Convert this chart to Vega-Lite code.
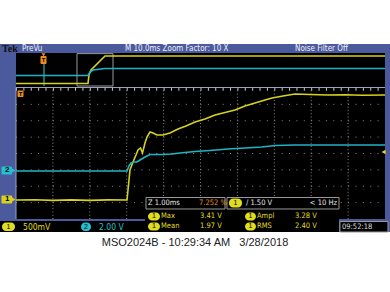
{
  "$schema": "https://vega.github.io/schema/vega-lite/v6.json",
  "width": 390,
  "height": 292,
  "padding": 0,
  "autosize": "none",
  "background": "white",
  "config": {"view": {"stroke": null}, "axis": {"disable": true}, "legend": {"disable": true}},
  "data": {"values": [{}]},
  "datasets": {
    "traces": [
      {"view": "zoom", "ch": "CH1", "x": -5.0, "y": -2.84},
      {"view": "zoom", "ch": "CH1", "x": -4.5, "y": -2.82},
      {"view": "zoom", "ch": "CH1", "x": -4.0, "y": -2.86},
      {"view": "zoom", "ch": "CH1", "x": -3.5, "y": -2.83},
      {"view": "zoom", "ch": "CH1", "x": -3.0, "y": -2.86},
      {"view": "zoom", "ch": "CH1", "x": -2.5, "y": -2.83},
      {"view": "zoom", "ch": "CH1", "x": -1.992, "y": -2.84},
      {"view": "zoom", "ch": "CH1", "x": -1.951, "y": -1.924},
      {"view": "zoom", "ch": "CH1", "x": -1.911, "y": -1.008},
      {"view": "zoom", "ch": "CH1", "x": -1.829, "y": -0.519},
      {"view": "zoom", "ch": "CH1", "x": -1.748, "y": -0.092},
      {"view": "zoom", "ch": "CH1", "x": -1.694, "y": 0.214},
      {"view": "zoom", "ch": "CH1", "x": -1.626, "y": 0.336},
      {"view": "zoom", "ch": "CH1", "x": -1.572, "y": 0.031},
      {"view": "zoom", "ch": "CH1", "x": -1.504, "y": 0.641},
      {"view": "zoom", "ch": "CH1", "x": -1.45, "y": 1.008},
      {"view": "zoom", "ch": "CH1", "x": -1.369, "y": 1.313},
      {"view": "zoom", "ch": "CH1", "x": -1.287, "y": 1.252},
      {"view": "zoom", "ch": "CH1", "x": -1.179, "y": 1.13},
      {"view": "zoom", "ch": "CH1", "x": -1.016, "y": 1.13},
      {"view": "zoom", "ch": "CH1", "x": -0.827, "y": 1.252},
      {"view": "zoom", "ch": "CH1", "x": -0.61, "y": 1.496},
      {"view": "zoom", "ch": "CH1", "x": -0.393, "y": 1.679},
      {"view": "zoom", "ch": "CH1", "x": -0.149, "y": 1.924},
      {"view": "zoom", "ch": "CH1", "x": 0.122, "y": 2.107},
      {"view": "zoom", "ch": "CH1", "x": 0.393, "y": 2.351},
      {"view": "zoom", "ch": "CH1", "x": 0.664, "y": 2.504},
      {"view": "zoom", "ch": "CH1", "x": 0.935, "y": 2.656},
      {"view": "zoom", "ch": "CH1", "x": 1.206, "y": 2.901},
      {"view": "zoom", "ch": "CH1", "x": 1.477, "y": 3.084},
      {"view": "zoom", "ch": "CH1", "x": 1.748, "y": 3.267},
      {"view": "zoom", "ch": "CH1", "x": 1.938, "y": 3.389},
      {"view": "zoom", "ch": "CH1", "x": 2.236, "y": 3.511},
      {"view": "zoom", "ch": "CH1", "x": 2.561, "y": 3.634},
      {"view": "zoom", "ch": "CH1", "x": 2.967, "y": 3.603},
      {"view": "zoom", "ch": "CH1", "x": 3.455, "y": 3.573},
      {"view": "zoom", "ch": "CH1", "x": 3.916, "y": 3.59},
      {"view": "zoom", "ch": "CH1", "x": 4.377, "y": 3.56},
      {"view": "zoom", "ch": "CH1", "x": 5.0, "y": 3.573},
      {"view": "zoom", "ch": "CH2", "x": -5.0, "y": -1.069},
      {"view": "zoom", "ch": "CH2", "x": -1.992, "y": -1.069},
      {"view": "zoom", "ch": "CH2", "x": -1.938, "y": -0.763},
      {"view": "zoom", "ch": "CH2", "x": -1.884, "y": -0.58},
      {"view": "zoom", "ch": "CH2", "x": -1.802, "y": -0.519},
      {"view": "zoom", "ch": "CH2", "x": -1.721, "y": -0.519},
      {"view": "zoom", "ch": "CH2", "x": -1.64, "y": -0.397},
      {"view": "zoom", "ch": "CH2", "x": -1.504, "y": -0.214},
      {"view": "zoom", "ch": "CH2", "x": -1.369, "y": -0.061},
      {"view": "zoom", "ch": "CH2", "x": -1.016, "y": -0.061},
      {"view": "zoom", "ch": "CH2", "x": -0.772, "y": -0.031},
      {"view": "zoom", "ch": "CH2", "x": -0.556, "y": 0.031},
      {"view": "zoom", "ch": "CH2", "x": -0.149, "y": 0.122},
      {"view": "zoom", "ch": "CH2", "x": 0.257, "y": 0.183},
      {"view": "zoom", "ch": "CH2", "x": 0.745, "y": 0.275},
      {"view": "zoom", "ch": "CH2", "x": 1.206, "y": 0.336},
      {"view": "zoom", "ch": "CH2", "x": 1.667, "y": 0.397},
      {"view": "zoom", "ch": "CH2", "x": 2.019, "y": 0.489},
      {"view": "zoom", "ch": "CH2", "x": 2.561, "y": 0.519},
      {"view": "zoom", "ch": "CH2", "x": 3.509, "y": 0.519},
      {"view": "zoom", "ch": "CH2", "x": 4.322, "y": 0.519},
      {"view": "zoom", "ch": "CH2", "x": 5.0, "y": 0.519},
      {"view": "overview", "ch": "CH1", "x": -5.0, "y": 4.275},
      {"view": "overview", "ch": "CH1", "x": -3.049, "y": 4.275},
      {"view": "overview", "ch": "CH1", "x": -3.022, "y": 4.794},
      {"view": "overview", "ch": "CH1", "x": -2.967, "y": 5.099},
      {"view": "overview", "ch": "CH1", "x": -2.588, "y": 5.954},
      {"view": "overview", "ch": "CH1", "x": 5.0, "y": 5.954},
      {"view": "overview", "ch": "CH2", "x": -5.0, "y": 4.763},
      {"view": "overview", "ch": "CH2", "x": -3.049, "y": 4.763},
      {"view": "overview", "ch": "CH2", "x": -2.995, "y": 4.977},
      {"view": "overview", "ch": "CH2", "x": -2.913, "y": 5.099},
      {"view": "overview", "ch": "CH2", "x": -2.588, "y": 5.191},
      {"view": "overview", "ch": "CH2", "x": 5.0, "y": 5.191}
    ],
    "vgrid": [{"d": -4}, {"d": -3}, {"d": -2}, {"d": -1}, {"d": 0}, {"d": 1}, {"d": 2}, {"d": 3}, {"d": 4}],
    "hgrid": [{"d": -3}, {"d": -2}, {"d": -1}, {"d": 0}, {"d": 1}, {"d": 2}, {"d": 3}]
  },
  "layer": [
    {"mark": {"type": "rect", "color": "#4b5a9c"},
     "encoding": {
       "x": {"datum": -5.4336, "type": "quantitative", "scale": {"domain": [-5.4336, 5.1355], "nice": false, "zero": false}},
       "x2": {"datum": 5.1355},
       "y": {"datum": -4.794, "type": "quantitative", "scale": {"domain": [-8.458, 9.374], "nice": false, "zero": false}},
       "y2": {"datum": 6.687}}},
    {"mark": {"type": "rect", "color": "#000000"},
     "encoding": {"x": {"datum": -5.0}, "x2": {"datum": 5.0}, "y": {"datum": 4.122}, "y2": {"datum": 6.137}}},
    {"mark": {"type": "rect", "color": "#000000"},
     "encoding": {"x": {"datum": -5.0}, "x2": {"datum": 5.0}, "y": {"datum": -4.0}, "y2": {"datum": 4.122}}},
    {"data": {"name": "vgrid"},
     "mark": {"type": "rule", "color": "#8a8a8a", "strokeWidth": 1, "strokeDash": [1, 2.275]},
     "encoding": {"x": {"field": "d", "type": "quantitative"}, "y": {"datum": -4}, "y2": {"datum": 4}}},
    {"data": {"name": "hgrid"},
     "mark": {"type": "rule", "color": "#8a8a8a", "strokeWidth": 1, "strokeDash": [1, 6.38]},
     "encoding": {"y": {"field": "d", "type": "quantitative"}, "x": {"datum": -5}, "x2": {"datum": 5}}},
    {"mark": {"type": "rule", "color": "#9aa2c0", "strokeWidth": 1},
     "encoding": {"x": {"datum": -5}, "x2": {"datum": 5}, "y": {"datum": 4.03}}},
    {"mark": {"type": "rule", "color": "#c8c8c8", "strokeWidth": 3, "strokeDash": [1, 6.38]},
     "encoding": {"x": {"datum": -5}, "x2": {"datum": 5}, "y": {"datum": 3.93}}},
    {"mark": {"type": "rule", "color": "#9aa2c0", "strokeWidth": 1},
     "encoding": {"x": {"datum": -5}, "y": {"datum": -4.0}, "y2": {"datum": 4.03}}},
    {"mark": {"type": "rect", "fill": null, "stroke": "#9a9a9a", "strokeWidth": 1},
     "encoding": {"x": {"datum": -3.347}, "x2": {"datum": -2.371}, "y": {"datum": 4.122}, "y2": {"datum": 6.1}}},
    {"mark": {"type": "rule", "color": "#1f8f8a", "strokeWidth": 1.5},
     "encoding": {"x": {"datum": -4.241}, "y": {"datum": 4.122}, "y2": {"datum": 5.466}}},
    {"data": {"name": "traces"},
     "mark": {"type": "line", "strokeWidth": 1.6},
     "encoding": {
       "x": {"field": "x", "type": "quantitative"},
       "y": {"field": "y", "type": "quantitative"},
       "color": {"field": "ch", "type": "nominal", "scale": {"domain": ["CH1", "CH2"], "range": ["#d6d21e", "#1eb4c4"]}},
       "detail": {"field": "view"}}},
    {"mark": {"type": "rect", "color": "#f08c1e", "cornerRadius": 1},
     "encoding": {"x": {"datum": -4.336}, "x2": {"datum": -4.173}, "y": {"datum": 5.466}, "y2": {"datum": 5.954}}},
    {"mark": {"type": "point", "shape": "triangle-down", "filled": true, "size": 14, "color": "#f08c1e", "opacity": 1},
     "encoding": {"x": {"datum": -4.255}, "y": {"datum": 6.03}}},
    {"mark": {"type": "text", "text": "T", "align": "center", "baseline": "middle", "fontSize": 6, "fontWeight": "bold", "font": "Liberation Sans", "color": "#000000"},
     "encoding": {"x": {"datum": -4.255}, "y": {"datum": 5.71}}},
    {"mark": {"type": "rect", "color": "#f08c1e", "cornerRadius": 1},
     "encoding": {"x": {"datum": -4.959}, "x2": {"datum": -4.797}, "y": {"datum": 3.45}, "y2": {"datum": 3.847}}},
    {"mark": {"type": "text", "text": "T", "align": "center", "baseline": "middle", "fontSize": 6, "fontWeight": "bold", "font": "Liberation Sans", "color": "#000000"},
     "encoding": {"x": {"datum": -4.878}, "y": {"datum": 3.649}}},
    {"mark": {"type": "rect", "color": "#d6d21e", "cornerRadius": 1},
     "encoding": {"x": {"datum": -5.393}, "x2": {"datum": -5.108}, "y": {"datum": -3.053}, "y2": {"datum": -2.565}}},
    {"mark": {"type": "point", "shape": "triangle-right", "filled": true, "size": 40, "color": "#d6d21e", "opacity": 1},
     "encoding": {"x": {"datum": -5.085}, "y": {"datum": -2.809}}},
    {"mark": {"type": "text", "text": "1", "align": "center", "baseline": "middle", "fontSize": 8, "fontWeight": "bold", "font": "Liberation Sans", "color": "#000000"},
     "encoding": {"x": {"datum": -5.24}, "y": {"datum": -2.809}}},
    {"mark": {"type": "rect", "color": "#22c0d0", "cornerRadius": 1},
     "encoding": {"x": {"datum": -5.393}, "x2": {"datum": -5.108}, "y": {"datum": -1.282}, "y2": {"datum": -0.794}}},
    {"mark": {"type": "point", "shape": "triangle-right", "filled": true, "size": 40, "color": "#22c0d0", "opacity": 1},
     "encoding": {"x": {"datum": -5.085}, "y": {"datum": -1.038}}},
    {"mark": {"type": "text", "text": "2", "align": "center", "baseline": "middle", "fontSize": 8, "fontWeight": "bold", "font": "Liberation Sans", "color": "#000000"},
     "encoding": {"x": {"datum": -5.24}, "y": {"datum": -1.038}}},
    {"mark": {"type": "point", "shape": "triangle-left", "filled": true, "size": 22, "color": "#e0dc20", "opacity": 1},
     "encoding": {"x": {"datum": 4.96}, "y": {"datum": 0.092}}},
    {"mark": {"type": "text", "text": "Tek", "align": "left", "baseline": "middle", "fontSize": 10, "fontWeight": "bold", "font": "Liberation Serif", "color": "#111111"},
     "encoding": {"x": {"datum": -5.379}, "y": {"datum": 6.412}}},
    {"mark": {"type": "text", "text": "PreVu", "align": "left", "baseline": "middle", "fontSize": 8, "font": "Liberation Sans Narrow, DejaVu Sans Condensed, Liberation Sans", "color": "#eef0fa"},
     "encoding": {"x": {"datum": -4.837}, "y": {"datum": 6.412}}},
    {"mark": {"type": "text", "text": "M 10.0ms  Zoom Factor: 10 X", "align": "left", "baseline": "middle", "fontSize": 8, "font": "Liberation Sans Narrow, DejaVu Sans Condensed, Liberation Sans", "color": "#eef0fa"},
     "encoding": {"x": {"datum": -2.046}, "y": {"datum": 6.412}}},
    {"mark": {"type": "text", "text": "Noise Filter Off", "align": "left", "baseline": "middle", "fontSize": 8, "font": "Liberation Sans Narrow, DejaVu Sans Condensed, Liberation Sans", "color": "#eef0fa"},
     "encoding": {"x": {"datum": 2.561}, "y": {"datum": 6.412}}},
    {"mark": {"type": "rect", "color": "#000000"},
     "encoding": {"x": {"datum": -5.4336}, "x2": {"datum": -1.504}, "y": {"datum": -4.794}, "y2": {"datum": -4.122}}},
    {"mark": {"type": "rect", "color": "#000000"},
     "encoding": {"x": {"datum": -1.504}, "x2": {"datum": 3.753}, "y": {"datum": -4.794}, "y2": {"datum": -3.389}}},
    {"mark": {"type": "rect", "color": "#000000", "stroke": "#9a9a9a", "strokeWidth": 1},
     "encoding": {"x": {"datum": -1.477}, "x2": {"datum": 0.664}, "y": {"datum": -3.389}, "y2": {"datum": -2.687}}},
    {"mark": {"type": "rect", "color": "#000000", "stroke": "#9a9a9a", "strokeWidth": 1},
     "encoding": {"x": {"datum": 0.718}, "x2": {"datum": 3.753}, "y": {"datum": -3.389}, "y2": {"datum": -2.687}}},
    {"mark": {"type": "rect", "color": "#000000", "stroke": "#9a9a9a", "strokeWidth": 1},
     "encoding": {"x": {"datum": 3.78}, "x2": {"datum": 5.081}, "y": {"datum": -4.794}, "y2": {"datum": -4.153}}},
    {"mark": {"type": "rect", "color": "#e0dc20", "cornerRadius": 4},
     "encoding": {"x": {"datum": -5.379}, "x2": {"datum": -5.027}, "y": {"datum": -4.733}, "y2": {"datum": -4.214}}},
    {"mark": {"type": "text", "text": "1", "align": "center", "baseline": "middle", "fontSize": 7, "font": "Liberation Sans", "color": "#000000"},
     "encoding": {"x": {"datum": -5.203}, "y": {"datum": -4.473}}},
    {"mark": {"type": "text", "text": "500mV", "align": "left", "baseline": "middle", "fontSize": 8.5, "font": "Liberation Sans Narrow, DejaVu Sans Condensed, Liberation Sans", "color": "#e0dc20"},
     "encoding": {"x": {"datum": -4.81}, "y": {"datum": -4.473}}},
    {"mark": {"type": "rect", "color": "#22c0d0", "cornerRadius": 4},
     "encoding": {"x": {"datum": -3.238}, "x2": {"datum": -2.967}, "y": {"datum": -4.733}, "y2": {"datum": -4.214}}},
    {"mark": {"type": "text", "text": "2", "align": "center", "baseline": "middle", "fontSize": 7, "font": "Liberation Sans", "color": "#000000"},
     "encoding": {"x": {"datum": -3.103}, "y": {"datum": -4.473}}},
    {"mark": {"type": "text", "text": "2.00 V", "align": "left", "baseline": "middle", "fontSize": 8.5, "font": "Liberation Sans Narrow, DejaVu Sans Condensed, Liberation Sans", "color": "#22c0d0"},
     "encoding": {"x": {"datum": -2.751}, "y": {"datum": -4.473}}},
    {"mark": {"type": "text", "text": "Z 1.00ms", "align": "left", "baseline": "middle", "fontSize": 7.5, "font": "Liberation Sans Narrow, DejaVu Sans Condensed, Liberation Sans", "color": "#e6e6e6"},
     "encoding": {"x": {"datum": -1.423}, "y": {"datum": -3.023}}},
    {"mark": {"type": "text", "text": "7.252 %", "align": "left", "baseline": "middle", "fontSize": 7.5, "font": "Liberation Sans Narrow, DejaVu Sans Condensed, Liberation Sans", "color": "#e8901c"},
     "encoding": {"x": {"datum": -0.041}, "y": {"datum": -3.023}}},
    {"mark": {"type": "rect", "color": "#e0dc20", "cornerRadius": 4},
     "encoding": {"x": {"datum": 0.772}, "x2": {"datum": 1.125}, "y": {"datum": -3.298}, "y2": {"datum": -2.748}}},
    {"mark": {"type": "text", "text": "1", "align": "center", "baseline": "middle", "fontSize": 7, "font": "Liberation Sans", "color": "#000000"},
     "encoding": {"x": {"datum": 0.949}, "y": {"datum": -3.023}}},
    {"mark": {"type": "text", "text": "/ 1.50 V", "align": "left", "baseline": "middle", "fontSize": 7.5, "font": "Liberation Sans Narrow, DejaVu Sans Condensed, Liberation Sans", "color": "#e6e6e6"},
     "encoding": {"x": {"datum": 1.233}, "y": {"datum": -3.023}}},
    {"mark": {"type": "text", "text": "< 10 Hz", "align": "right", "baseline": "middle", "fontSize": 7.5, "font": "Liberation Sans Narrow, DejaVu Sans Condensed, Liberation Sans", "color": "#e6e6e6"},
     "encoding": {"x": {"datum": 3.699}, "y": {"datum": -3.023}}},
    {"mark": {"type": "rect", "color": "#e0dc20", "cornerRadius": 4},
     "encoding": {"x": {"datum": -1.423}, "x2": {"datum": -1.098}, "y": {"datum": -4.092}, "y2": {"datum": -3.603}}},
    {"mark": {"type": "rect", "color": "#e0dc20", "cornerRadius": 4},
     "encoding": {"x": {"datum": -1.423}, "x2": {"datum": -1.098}, "y": {"datum": -4.702}, "y2": {"datum": -4.214}}},
    {"mark": {"type": "rect", "color": "#e0dc20", "cornerRadius": 4},
     "encoding": {"x": {"datum": 1.206}, "x2": {"datum": 1.504}, "y": {"datum": -4.092}, "y2": {"datum": -3.603}}},
    {"mark": {"type": "rect", "color": "#e0dc20", "cornerRadius": 4},
     "encoding": {"x": {"datum": 1.206}, "x2": {"datum": 1.504}, "y": {"datum": -4.702}, "y2": {"datum": -4.214}}},
    {"mark": {"type": "text", "text": "1", "align": "center", "baseline": "middle", "fontSize": 7, "font": "Liberation Sans", "color": "#000000"},
     "encoding": {"x": {"datum": -1.26}, "y": {"datum": -3.847}}},
    {"mark": {"type": "text", "text": "1", "align": "center", "baseline": "middle", "fontSize": 7, "font": "Liberation Sans", "color": "#000000"},
     "encoding": {"x": {"datum": -1.26}, "y": {"datum": -4.458}}},
    {"mark": {"type": "text", "text": "1", "align": "center", "baseline": "middle", "fontSize": 7, "font": "Liberation Sans", "color": "#000000"},
     "encoding": {"x": {"datum": 1.355}, "y": {"datum": -3.847}}},
    {"mark": {"type": "text", "text": "1", "align": "center", "baseline": "middle", "fontSize": 7, "font": "Liberation Sans", "color": "#000000"},
     "encoding": {"x": {"datum": 1.355}, "y": {"datum": -4.458}}},
    {"mark": {"type": "text", "text": "Max", "align": "left", "baseline": "middle", "fontSize": 7.5, "font": "Liberation Sans Narrow, DejaVu Sans Condensed, Liberation Sans", "color": "#e0dc20"},
     "encoding": {"x": {"datum": -1.07}, "y": {"datum": -3.847}}},
    {"mark": {"type": "text", "text": "Mean", "align": "left", "baseline": "middle", "fontSize": 7.5, "font": "Liberation Sans Narrow, DejaVu Sans Condensed, Liberation Sans", "color": "#e0dc20"},
     "encoding": {"x": {"datum": -1.07}, "y": {"datum": -4.458}}},
    {"mark": {"type": "text", "text": "3.41 V", "align": "left", "baseline": "middle", "fontSize": 7.5, "font": "Liberation Sans Narrow, DejaVu Sans Condensed, Liberation Sans", "color": "#e0dc20"},
     "encoding": {"x": {"datum": -0.014}, "y": {"datum": -3.847}}},
    {"mark": {"type": "text", "text": "1.97 V", "align": "left", "baseline": "middle", "fontSize": 7.5, "font": "Liberation Sans Narrow, DejaVu Sans Condensed, Liberation Sans", "color": "#e0dc20"},
     "encoding": {"x": {"datum": -0.014}, "y": {"datum": -4.458}}},
    {"mark": {"type": "text", "text": "Ampl", "align": "left", "baseline": "middle", "fontSize": 7.5, "font": "Liberation Sans Narrow, DejaVu Sans Condensed, Liberation Sans", "color": "#e0dc20"},
     "encoding": {"x": {"datum": 1.531}, "y": {"datum": -3.847}}},
    {"mark": {"type": "text", "text": "RMS", "align": "left", "baseline": "middle", "fontSize": 7.5, "font": "Liberation Sans Narrow, DejaVu Sans Condensed, Liberation Sans", "color": "#e0dc20"},
     "encoding": {"x": {"datum": 1.531}, "y": {"datum": -4.458}}},
    {"mark": {"type": "text", "text": "3.28 V", "align": "left", "baseline": "middle", "fontSize": 7.5, "font": "Liberation Sans Narrow, DejaVu Sans Condensed, Liberation Sans", "color": "#e0dc20"},
     "encoding": {"x": {"datum": 2.561}, "y": {"datum": -3.847}}},
    {"mark": {"type": "text", "text": "2.40 V", "align": "left", "baseline": "middle", "fontSize": 7.5, "font": "Liberation Sans Narrow, DejaVu Sans Condensed, Liberation Sans", "color": "#e0dc20"},
     "encoding": {"x": {"datum": 2.561}, "y": {"datum": -4.458}}},
    {"mark": {"type": "text", "text": "09:52:18", "align": "left", "baseline": "middle", "fontSize": 7.5, "font": "Liberation Sans Narrow, DejaVu Sans Condensed, Liberation Sans", "color": "#dcdcdc"},
     "encoding": {"x": {"datum": 3.835}, "y": {"datum": -4.489}}},
    {"mark": {"type": "text", "text": "MSO2024B - 10:29:34 AM\u00a0\u00a0\u00a03/28/2018", "align": "center", "baseline": "middle", "fontSize": 11, "font": "Liberation Sans", "color": "#222222"},
     "encoding": {"x": {"datum": -0.149}, "y": {"datum": -5.466}}}
  ]
}
